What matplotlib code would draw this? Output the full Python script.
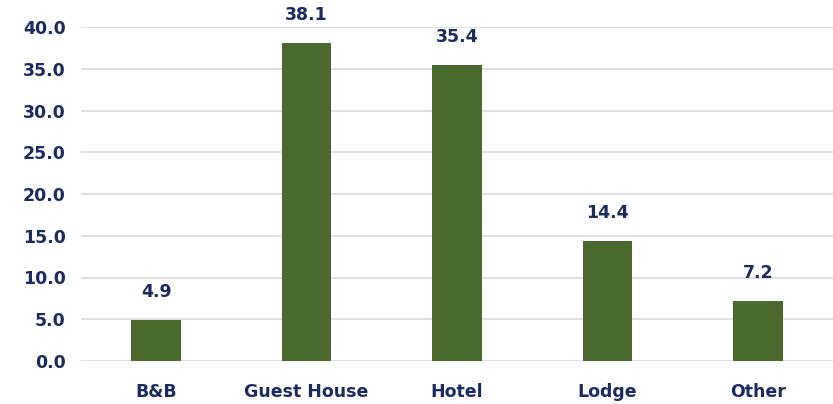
import matplotlib.pyplot as plt

categories = ["B&B", "Guest House", "Hotel", "Lodge", "Other"]
values = [4.9, 38.1, 35.4, 14.4, 7.2]
yticks = [0, 5, 10, 15, 20, 25, 30, 35, 40]

navy = "#1c2b5e"
green = "#4a6a2d"

fig = plt.figure(figsize=(8.33, 4.04), dpi=100)
ax = fig.add_axes([81 / 833, 1 - 361 / 404, 752 / 833, 334 / 404])

x = range(len(categories))
bars = ax.bar(x, values, width=0.33, color=green, zorder=3)

for b, v in zip(bars, values):
    ax.text(b.get_x() + b.get_width() / 2, v + 2.3, f"{v:.1f}",
            ha="center", va="bottom", fontsize=12.5, fontweight="bold", color=navy)

ax.set_xlim(-0.5, len(categories) - 0.5)
ax.set_ylim(0, 40)
ax.set_yticks(yticks)
ax.set_yticklabels([f"{t:.1f}" for t in yticks])
ax.set_xticks(list(x))
ax.set_xticklabels(categories)

for lbl in ax.get_xticklabels() + ax.get_yticklabels():
    lbl.set_fontweight("bold")
    lbl.set_fontsize(12.5)
    lbl.set_color(navy)

ax.tick_params(length=0)
ax.tick_params(axis="y", pad=11)
ax.tick_params(axis="x", pad=16)
ax.grid(axis="y", color="#d9d9d9", linewidth=1.2, zorder=0)
for s in ax.spines.values():
    s.set_visible(False)

fig.savefig("out.png", dpi=100)
